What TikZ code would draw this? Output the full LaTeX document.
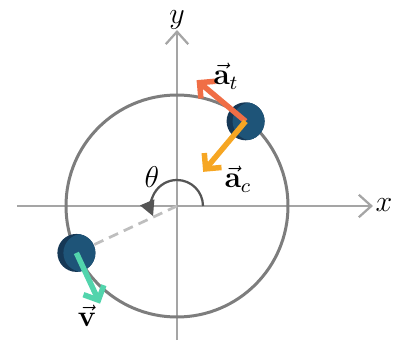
\documentclass[tikz,border=0pt]{standalone}
\usepackage{amsmath,amssymb}
\usepackage{bm}
\usetikzlibrary{calc,arrows.meta}
\definecolor{axisgray}{RGB}{165,165,165}
\definecolor{ringgray}{RGB}{125,125,125}
\definecolor{dashgray}{RGB}{190,190,190}
\definecolor{arcgray}{RGB}{85,85,85}
\definecolor{balldark}{RGB}{22,56,86}
\definecolor{ballblue}{RGB}{30,84,120}
\definecolor{atcol}{RGB}{240,110,70}
\definecolor{accol}{RGB}{246,166,35}
\definecolor{vcol}{RGB}{82,212,172}

\begin{document}
\begin{tikzpicture}[x=0.4pt, y=0.4pt,
    axis/.style={draw, axisgray, line width=0.8pt, -{Straight Barb[length=5pt, width=9pt, line width=0.9pt]}},
    vecarrow/.style={draw, line width=2.2pt, -{Straight Barb[length=4.5pt, width=9pt, line width=2.2pt]}}]
    \useasboundingbox (-177,-141) rectangle (224,206);
    % origin
    \coordinate(O)at(0,0);
    % axes
    \coordinate(XL)at(-160,0);
    \coordinate(XR)at(196,0);
    \coordinate(YB)at(0,-134);
    \coordinate(YT)at(0,176);
    \path[axis](XL)to(XR);
    \path[axis](YB)to(YT);
    \node(xlab)at(207,1){\large$x$};
    \node[inner sep=0pt](ylab)at(0,186){\large$y$};
    % path
    \path[draw, ringgray, line width=1.2pt](O)circle(111);
    % balls
    \coordinate(P)at(51:109);
    \coordinate(Q)at(205:111);
    % radius
    \path[draw, dashgray, line width=1.1pt, dash pattern=on 4pt off 2.5pt](O)to(Q);
    % angle
    \path[draw, arcgray, line width=0.9pt, -{Triangle[length=6pt, width=6pt]}](26,0) arc[start angle=0, end angle=203, radius=26];
    \node(theta)at(-25,29){\large$\theta$};
    \foreach \b in {P,Q}{
        \path[fill=balldark](\b)circle(19);
        \begin{scope}
            \clip(\b)circle(19);
            \path[fill=ballblue]($(\b)+(6,0)$)circle(19);
        \end{scope}
    }
    % vectors
    \coordinate(AT)at($(P)+(140:64)$);
    \coordinate(AC)at($(P)+(230:66)$);
    \coordinate(V)at($(Q)+(295:56)$);
    \path[vecarrow, atcol](P)to(AT);
    \path[vecarrow, accol](P)to(AC);
    \path[vecarrow, vcol](Q)to(V);
    \node(atlab)at(49,130){\large$\vec{\mathbf{a}}_t$};
    \node(aclab)at(61,27){\large$\vec{\mathbf{a}}_c$};
    \node(vlab)at(-90,-110){\large$\vec{\mathbf{v}}$};
\end{tikzpicture}
\end{document}
